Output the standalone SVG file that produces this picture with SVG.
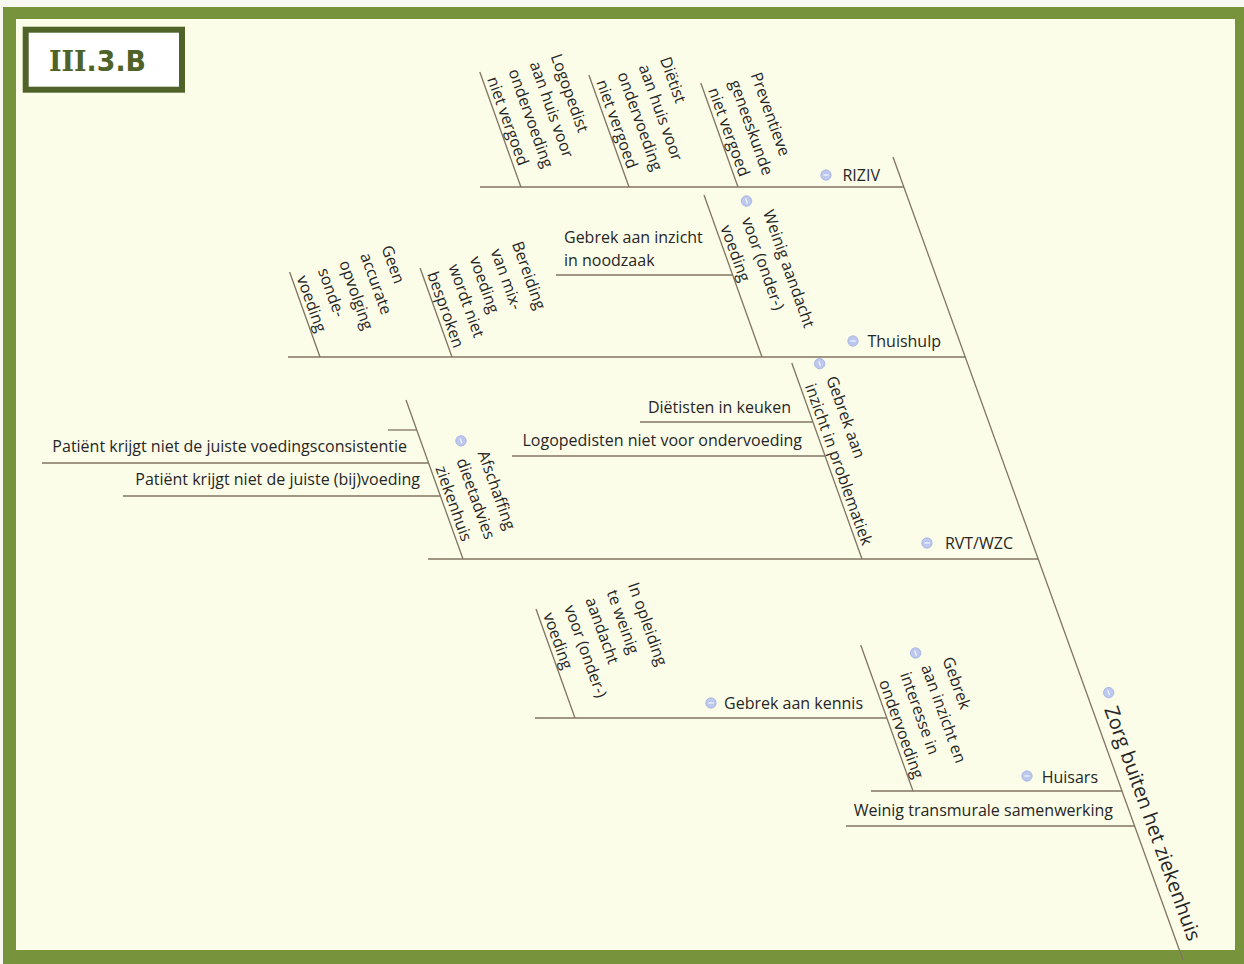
<svg xmlns="http://www.w3.org/2000/svg" xmlns:xlink="http://www.w3.org/1999/xlink" width="1244" height="964" viewBox="0 0 1244 964">
  <style>
    .ln { stroke: #807461; stroke-width: 1.3; fill: none; }
    .t { font-family: "Open Sans", "Noto Sans", "Liberation Sans", sans-serif; font-size: 16px; fill: #262626; }
    .big { font-size: 20px; }
    .end { text-anchor: end; }
  </style>
  <defs>
    <!-- collapse button shown in front of expandable topics -->
    <g id="ic">
      <circle r="5.2" fill="#bcc8ee" stroke="#a4b3e0" stroke-width="0.8"/>
      <line x1="-2.6" y1="0" x2="2.6" y2="0" stroke="#eef2fd" stroke-width="1.4"/>
    </g>
  </defs>

  <!-- page frame -->
  <rect x="0" y="0" width="1244" height="964" fill="#f7f8f0"/>
  <rect x="3" y="7" width="1241" height="957" fill="#77933c"/>
  <rect x="16" y="19" width="1219" height="931" fill="#fcfde9"/>

  <!-- section badge -->
  <g id="badge">
    <rect x="25.7" y="29.7" width="156.3" height="60" fill="#ffffff" stroke="#4f6228" stroke-width="6"/>
    <text x="97.5" y="71" text-anchor="middle" font-family="DejaVu Sans, Verdana, sans-serif" font-weight="bold" font-size="28" fill="#4f6228" textLength="97" lengthAdjust="spacingAndGlyphs"><tspan font-family="DejaVu Serif, serif">III</tspan>.3.B</text>
  </g>

  <!-- bones of the fishbone -->
  <g id="connectors">
    <!-- spine -->
    <line class="ln" x1="893" y1="157" x2="1183" y2="960"/>
    <!-- main branches -->
    <line class="ln" x1="480" y1="187" x2="903.8" y2="187"/>
    <line class="ln" x1="288" y1="357" x2="965.2" y2="357"/>
    <line class="ln" x1="428" y1="559" x2="1038.2" y2="559"/>
    <line class="ln" x1="871" y1="791" x2="1122" y2="791"/>
    <line class="ln" x1="846" y1="826" x2="1134.8" y2="826"/>
    <!-- slanted sub-branches -->
    <line class="ln" x1="479.8" y1="72" x2="520.9" y2="187"/>
    <line class="ln" x1="588.9" y1="75" x2="629" y2="187"/>
    <line class="ln" x1="700.8" y1="83" x2="738" y2="187"/>
    <line class="ln" x1="289.6" y1="272" x2="320" y2="357"/>
    <line class="ln" x1="420.1" y1="268" x2="452" y2="357"/>
    <line class="ln" x1="704" y1="195" x2="762" y2="357"/>
    <line class="ln" x1="791.8" y1="363" x2="862" y2="559"/>
    <line class="ln" x1="406" y1="400" x2="463" y2="559"/>
    <line class="ln" x1="536" y1="609" x2="575" y2="718"/>
    <line class="ln" x1="860.7" y1="645" x2="913" y2="791"/>
    <!-- horizontal leaves -->
    <line class="ln" x1="556" y1="275" x2="732.6" y2="275"/>
    <line class="ln" x1="640" y1="422" x2="812.9" y2="422"/>
    <line class="ln" x1="512" y1="456" x2="825.1" y2="456"/>
    <line class="ln" x1="388" y1="430" x2="416.7" y2="430"/>
    <line class="ln" x1="42" y1="463" x2="428.6" y2="463"/>
    <line class="ln" x1="123" y1="496" x2="440.4" y2="496"/>
    <line class="ln" x1="535" y1="718" x2="886.8" y2="718"/>
  </g>

  <!-- central topic along the spine -->
  <g id="n-zorg" transform="translate(893,157) rotate(70.15)">
    <use xlink:href="#ic" x="577" y="-21"/>
    <text class="t big" x="591" y="-11">Zorg buiten het ziekenhuis</text>
  </g>

  <!-- RIZIV -->
  <g id="n-riziv">
    <use xlink:href="#ic" x="826" y="175"/>
    <text class="t end" x="880" y="181">RIZIV</text>
  </g>
  <g id="n-logopedist" transform="translate(479.8,72) rotate(70.3)">
    <text class="t" x="9" y="-72">Logopedist</text>
    <text class="t" x="9" y="-49.5">aan huis voor</text>
    <text class="t" x="9" y="-27">ondervoeding</text>
    <text class="t" x="9" y="-4.5">niet vergoed</text>
  </g>
  <g id="n-dietist" transform="translate(588.9,75) rotate(70.3)">
    <text class="t" x="9" y="-72">Diëtist</text>
    <text class="t" x="9" y="-49.5">aan huis voor</text>
    <text class="t" x="9" y="-27">ondervoeding</text>
    <text class="t" x="9" y="-4.5">niet vergoed</text>
  </g>
  <g id="n-preventieve" transform="translate(700.8,83) rotate(70.3)">
    <text class="t" x="9" y="-49.5">Preventieve</text>
    <text class="t" x="9" y="-27">geneeskunde</text>
    <text class="t" x="9" y="-4.5">niet vergoed</text>
  </g>

  <!-- Thuishulp -->
  <g id="n-thuishulp">
    <use xlink:href="#ic" x="853" y="341"/>
    <text class="t end" x="941" y="347">Thuishulp</text>
  </g>
  <g id="n-geen" transform="translate(289.6,272) rotate(70.3)">
    <text class="t" x="8" y="-94.5">Geen</text>
    <text class="t" x="8" y="-72">accurate</text>
    <text class="t" x="8" y="-49.5">opvolging</text>
    <text class="t" x="8" y="-27">sonde-</text>
    <text class="t" x="8" y="-4.5">voeding</text>
  </g>
  <g id="n-bereiding" transform="translate(420.1,268) rotate(70.3)">
    <text class="t" x="8" y="-94.5">Bereiding</text>
    <text class="t" x="8" y="-72">van mix-</text>
    <text class="t" x="8" y="-49.5">voeding</text>
    <text class="t" x="8" y="-27">wordt niet</text>
    <text class="t" x="8" y="-4.5">besproken</text>
  </g>
  <g id="n-weinig-aandacht" transform="translate(704,195) rotate(70.3)">
    <use xlink:href="#ic" x="20" y="-38"/>
    <text class="t" x="36" y="-49.5">Weinig aandacht</text>
    <text class="t" x="36" y="-27">voor (onder-)</text>
    <text class="t" x="36" y="-4.5">voeding</text>
  </g>
  <g id="n-noodzaak">
    <text class="t" x="564" y="243">Gebrek aan inzicht</text>
    <text class="t" x="564" y="266">in noodzaak</text>
  </g>

  <!-- RVT/WZC -->
  <g id="n-rvt">
    <use xlink:href="#ic" x="927" y="543"/>
    <text class="t end" x="1013" y="549">RVT/WZC</text>
  </g>
  <g id="n-problematiek" transform="translate(791.8,363) rotate(70.3)">
    <use xlink:href="#ic" x="10" y="-26"/>
    <text class="t" x="26" y="-27">Gebrek aan</text>
    <text class="t" x="26" y="-4.5">inzicht in problematiek</text>
  </g>
  <g id="n-keuken">
    <text class="t end" x="791" y="413">Diëtisten in keuken</text>
  </g>
  <g id="n-logopedisten">
    <text class="t end" x="802" y="446">Logopedisten niet voor ondervoeding</text>
  </g>
  <g id="n-afschaffing" transform="translate(406,400) rotate(70.3)">
    <use xlink:href="#ic" x="57" y="-38"/>
    <text class="t" x="74" y="-49.5">Afschaffing</text>
    <text class="t" x="74" y="-27">dieetadvies</text>
    <text class="t" x="74" y="-4.5">ziekenhuis</text>
  </g>
  <g id="n-consistentie">
    <text class="t end" x="407" y="452">Patiënt krijgt niet de juiste voedingsconsistentie</text>
  </g>
  <g id="n-bijvoeding">
    <text class="t end" x="420" y="485">Patiënt krijgt niet de juiste (bij)voeding</text>
  </g>

  <!-- Huisars -->
  <g id="n-huisars">
    <use xlink:href="#ic" x="1027" y="776"/>
    <text class="t end" x="1098" y="783">Huisars</text>
  </g>
  <g id="n-interesse" transform="translate(860.7,645) rotate(70.3)">
    <use xlink:href="#ic" x="26" y="-49"/>
    <text class="t" x="41" y="-72">Gebrek</text>
    <text class="t" x="41" y="-49.5">aan inzicht en</text>
    <text class="t" x="41" y="-27">interesse in</text>
    <text class="t" x="41" y="-4.5">ondervoeding</text>
  </g>
  <g id="n-kennis">
    <use xlink:href="#ic" x="711" y="703"/>
    <text class="t end" x="863" y="709">Gebrek aan kennis</text>
  </g>
  <g id="n-opleiding" transform="translate(536,609) rotate(70.3)">
    <text class="t" x="8" y="-94.5">In opleiding</text>
    <text class="t" x="8" y="-72">te weinig</text>
    <text class="t" x="8" y="-49.5">aandacht</text>
    <text class="t" x="8" y="-27">voor (onder-)</text>
    <text class="t" x="8" y="-4.5">voeding</text>
  </g>
  <g id="n-transmuraal">
    <text class="t end" x="1113" y="816">Weinig transmurale samenwerking</text>
  </g>
</svg>
